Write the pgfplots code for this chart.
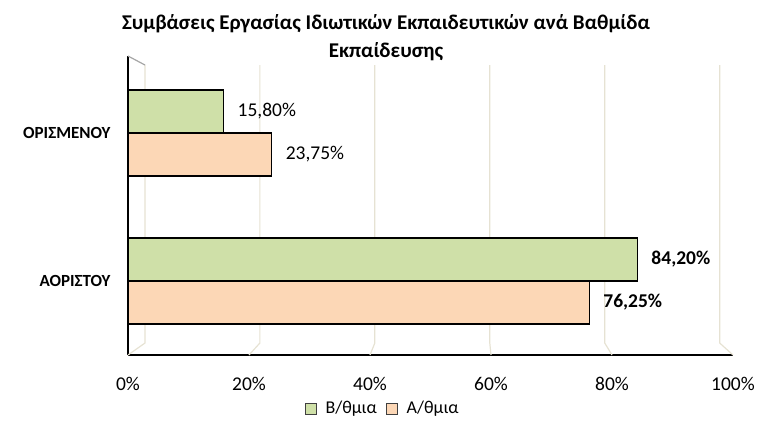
\documentclass[border=0pt]{standalone}
\usepackage{fontspec}
\setmainfont{Carlito}
\usepackage{pgfplots}
\pgfplotsset{compat=1.18}

\definecolor{grn}{HTML}{CFE0A8}
\definecolor{org}{HTML}{FCD7B6}
\definecolor{gridc}{HTML}{E6E2D3}

\begin{document}
\begin{tikzpicture}
\begin{axis}[
  scale only axis,
  width=605pt, height=299pt,
  xmin=0, xmax=100,
  ymin=-0.5, ymax=1.52,
  clip=false,
  axis x line*=bottom, axis y line*=left,
  axis line style={black, line width=1.5pt},
  xtick={0,20,40,60,80,100},
  xticklabels={0\%,20\%,40\%,60\%,80\%,100\%},
  ytick={0,1},
  yticklabels={ΑΟΡΙΣΤΟΥ,ΟΡΙΣΜΕΝΟΥ},
  major tick length=0pt,
  xticklabel style={font=\fontsize{19.5}{22}\selectfont, yshift=-19pt},
  yticklabel style={font=\bfseries\fontsize{17}{20}\selectfont, xshift=-14pt},
  bar width=0.29,
  point meta=explicit symbolic,
  nodes near coords={\pgfplotspointmeta},
  nodes near coords style={font=\fontsize{19.5}{22}\selectfont, anchor=west, xshift=10pt},
  legend columns=2,
  legend style={at={(0.421,-0.178)}, anchor=center, draw=none, fill=none,
    font=\fontsize{18}{20}\selectfont, column sep=7pt},
  legend image code/.code={
    \draw[#1, draw=black!75, line width=0.8pt] (0pt,-6pt) rectangle (11pt,5pt);},
]
% back wall and floor grid (3-D look)
\foreach \t/\b in {0/2.81, 20/21.8, 40/40.8, 60/59.8, 80/78.8, 100/97.8} {
  \edef\tmp{\noexpand\draw[gridc, line width=1.2pt]
    (axis cs:\t,-0.5) -- (axis cs:\b,-0.419) -- (axis cs:\b,1.459);}
  \tmp
}
\draw[gray!70, line width=1.2pt] (axis cs:0,1.52) -- (axis cs:2.81,1.459);

\addplot[xbar, bar shift=0.145, fill=grn, draw=black, line width=1.5pt,
  every node near coord/.append style={yshift=21.5pt}]
  coordinates {(84.2,0) [{\textbf{84,20\%}}] (15.8,1) [{15,80\%}]};
\addlegendentry{Β/θμια}
\addplot[xbar, bar shift=-0.145, fill=org, draw=black, line width=1.5pt,
  every node near coord/.append style={yshift=-21.5pt}]
  coordinates {(76.25,0) [{\textbf{76,25\%}}] (23.75,1) [{23,75\%}]};
\addlegendentry{Α/θμια}
\end{axis}
\node[align=center, font=\bfseries\fontsize{21}{28}\selectfont]
  at (258pt,317pt) {Συμβάσεις Εργασίας Ιδιωτικών Εκπαιδευτικών ανά Βαθμίδα\\Εκπαίδευσης};
\path (-128pt,-77pt) rectangle (633pt,355pt);
\end{tikzpicture}
\end{document}
